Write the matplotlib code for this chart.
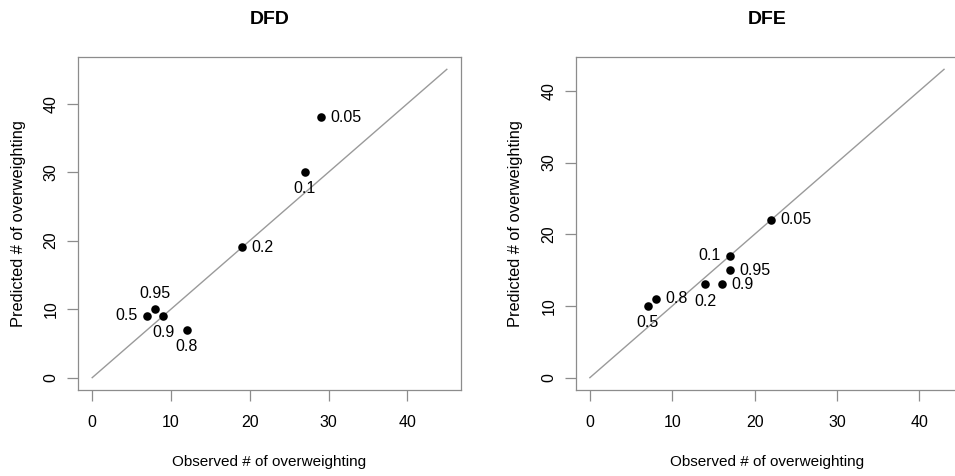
import matplotlib
matplotlib.use("Agg")
import matplotlib.pyplot as plt

plt.rcParams['font.family'] = ['Liberation Sans', 'DejaVu Sans']

# DFD panel
dfd_labels = ["0.05", "0.1", "0.2", "0.95", "0.5", "0.9", "0.8"]
dfd_obs = [29, 27, 19, 8, 7, 9, 12]
dfd_pred = [38, 30, 19, 10, 9, 9, 7]
dfd_pos = ["right", "below", "right", "above", "left", "below", "below"]
dfd_max = 45

# DFE panel
dfe_labels = ["0.05", "0.1", "0.95", "0.9", "0.2", "0.8", "0.5"]
dfe_obs = [22, 17, 17, 16, 14, 8, 7]
dfe_pred = [22, 17, 15, 13, 13, 11, 10]
dfe_pos = ["right", "left", "right", "right", "below", "right", "below"]
dfe_max = 43

ticks = [0, 10, 20, 30, 40]

W, H = 955, 476
fig = plt.figure(figsize=(W / 100, H / 100), dpi=100)

gray = "#8c8c8c"
offsets = {"right": ((7, 0), "left", "center"),
           "left": ((-7, 0), "right", "center"),
           "above": ((0, 11), "center", "center"),
           "below": ((0, -12), "center", "center")}


def panel(rect, title, obs, pred, labels, pos, vmax):
    ax = fig.add_axes(rect)
    ext = 0.04 * vmax
    ax.set_xlim(-ext, vmax + ext)
    ax.set_ylim(-ext, vmax + ext)
    ax.plot([0, vmax], [0, vmax], color="#9a9a9a", lw=1.0, zorder=1)
    ax.scatter(obs, pred, s=38, color="black", zorder=3, linewidths=0)
    for x, y, lab, p in zip(obs, pred, labels, pos):
        off, ha, va = offsets[p]
        ax.annotate(lab, (x, y), xytext=off, textcoords="offset points",
                    ha=ha, va=va, fontsize=11.5)
    ax.set_xticks(ticks)
    ax.set_yticks(ticks)
    ax.tick_params(axis="both", direction="out", length=8, width=0.9,
                   color=gray, labelsize=11.5)
    ax.tick_params(axis="x", pad=10)
    ax.tick_params(axis="y", labelrotation=90, pad=6)
    for lbl in ax.get_yticklabels():
        lbl.set_va("center")
    for s in ax.spines.values():
        s.set_color(gray)
        s.set_linewidth(0.9)
    ax.set_xlabel("Observed # of overweighting", fontsize=11, labelpad=18)
    ax.set_ylabel("Predicted # of overweighting", fontsize=11.8, labelpad=13)
    ax.set_title(title, fontsize=14, fontweight="bold", pad=24)
    return ax


panel([78 / W, 1 - 390 / H, 383 / W, 333 / H], "DFD",
      dfd_obs, dfd_pred, dfd_labels, dfd_pos, dfd_max)
panel([575.7 / W, 1 - 390 / H, 382.5 / W, 333 / H], "DFE",
      dfe_obs, dfe_pred, dfe_labels, dfe_pos, dfe_max)

fig.savefig("out.png", dpi=100)
